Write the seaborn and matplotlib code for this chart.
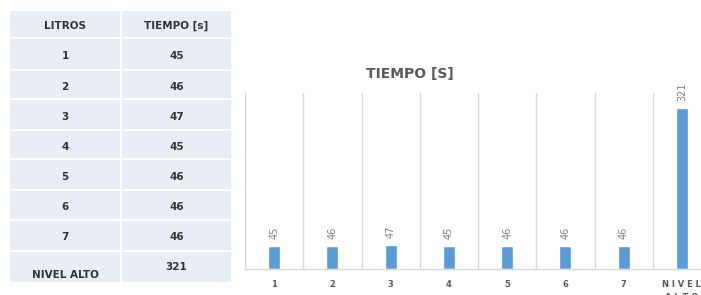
import numpy as np
import pandas as pd
import matplotlib
matplotlib.use("Agg")
import matplotlib.pyplot as plt
import seaborn as sns
from matplotlib.patches import Rectangle

# data
header = ["LITROS", "TIEMPO [s]"]
litros = ["1", "2", "3", "4", "5", "6", "7", "NIVEL ALTO"]
tiempo = [45, 46, 47, 45, 46, 46, 46, 321]
chart_labels = ["1", "2", "3", "4", "5", "6", "7", "N I V E L\nA L T O"]

sns.set_theme(style="white")
plt.rcParams["font.family"] = ["DejaVu Sans"]

W, H = 701, 295
fig = plt.figure(figsize=(W / 100, H / 100), dpi=100)
fig.patch.set_facecolor("white")

# ---- table on the left (pixel coordinates) ----
tab = fig.add_axes([0, 0, 1, 1])
tab.set_xlim(0, W)
tab.set_ylim(H, 0)
tab.axis("off")

col_edges = [9, 121, 232]
row_edges = [10, 38, 70, 99, 130, 159, 190, 220, 251, 283]
cell_color = "#e9edf5"

rows = [header] + [[l, str(t)] for l, t in zip(litros, tiempo)]
for i, row in enumerate(rows):
    y0, y1 = row_edges[i], row_edges[i + 1]
    for j, txt in enumerate(row):
        x0, x1 = col_edges[j], col_edges[j + 1]
        tab.add_patch(Rectangle((x0 + 1, y0 + 1), x1 - x0 - 2, y1 - y0 - 2,
                                color=cell_color, lw=0))
        ty = (y0 + y1) / 2 + 2
        if i == len(rows) - 1:
            ty = y1 - 8 if j == 0 else (y0 + y1) / 2
        tab.text((x0 + x1) / 2, ty, txt, ha="center", va="center",
                 fontsize=7.5, fontweight="bold", color="#333333")

# ---- bar chart on the right ----
ax = fig.add_axes([245 / W, (H - 269) / H, 466 / W, (269 - 93) / H])
df = pd.DataFrame({"litros": chart_labels, "tiempo": tiempo})
sns.barplot(data=df, x="litros", y="tiempo", color="#5b9bd5", saturation=1,
            width=0.21, ax=ax)

ax.set_xlim(-0.5, 7.5)
ax.set_ylim(0, 350)
ax.set_yticks([])
for s in ["top", "right", "left"]:
    ax.spines[s].set_visible(False)
ax.spines["bottom"].set_color("#d9d9d9")
ax.spines["bottom"].set_linewidth(1)
ax.set_xticks(np.arange(-0.5, 8, 1), minor=True)
ax.grid(True, which="minor", axis="x", color="#d9d9d9", lw=1)
ax.grid(False, which="major")
ax.tick_params(axis="x", which="both", length=0, pad=8, labelsize=6,
               labelcolor="#595959")
for t in ax.get_xticklabels():
    t.set_fontweight("bold")
    t.set_linespacing(1.5)
ax.set_xlabel("")
ax.set_ylabel("")

for c in ax.containers:
    ax.bar_label(c, rotation=90, padding=5, fontsize=7, color="#7f7f7f")

fig.text(410 / W, 1 - 74 / H, "TIEMPO [S]", ha="center", va="center",
         fontsize=10, fontweight="bold", color="#595959")

fig.savefig("out.png", dpi=100)
